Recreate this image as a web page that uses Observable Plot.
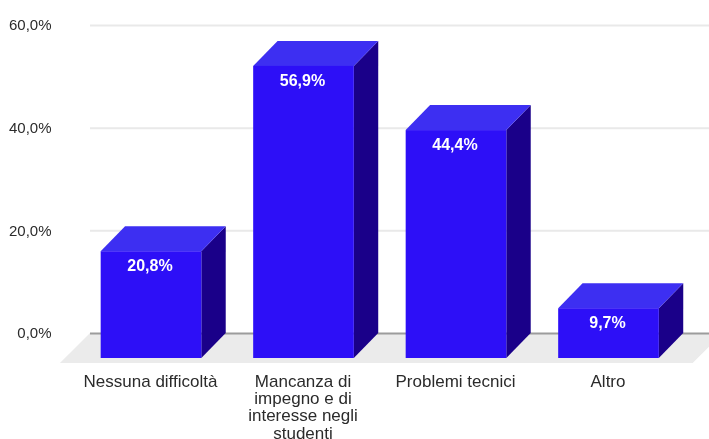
<!DOCTYPE html>
<html>
<head>
<meta charset="utf-8">
<script src="https://cdn.jsdelivr.net/npm/d3@7"></script>
<script src="https://cdn.jsdelivr.net/npm/@observablehq/plot@0.6"></script>
<style>
html,body{margin:0;padding:0;background:#fff}
svg{filter:blur(0.35px)}
</style>
</head>
<body>
<div id="chart"></div>
<script>
const categories = ["Nessuna difficoltà", "Mancanza di\nimpegno e di\ninteresse negli\nstudenti", "Problemi tecnici", "Altro"];
const values = [20.8, 56.9, 44.4, 9.7];
const yTicks = [0, 20, 40, 60];
const index = categories.map((_, i) => i);

// 3D extrusion, in data units of the two scales
const halfBar = 0.33, depthX = 0.16, depthY = 4.87;
const colors = {front: "#2d0ff7", top: "#3d2ff2", side: "#1a0089", floor: "#ebebeb", grid: "#e9e9e9", zero: "#9c9c9c", text: "#2b2b2b"};

const bars = values.map((v, i) => ({i, v, x1: i - halfBar, x2: i + halfBar, label: v.toFixed(1).replace(".", ",") + "%"}));
const sides = bars.flatMap(b => [
  {i: b.i, x: b.x2, lo: -depthY, hi: b.v - depthY},
  {i: b.i, x: b.x2 + depthX, lo: 0, hi: b.v}
]);
const tops = bars.flatMap(b => [
  {i: b.i, x: b.x1, lo: b.v - depthY, hi: b.v - depthY},
  {i: b.i, x: b.x1 + depthX, lo: b.v - depthY, hi: b.v},
  {i: b.i, x: b.x2, lo: b.v - depthY, hi: b.v},
  {i: b.i, x: b.x2 + depthX, lo: b.v, hi: b.v}
]);
const floorBottom = -5.84;
const floor = [
  {x: -0.597, lo: floorBottom, hi: floorBottom},
  {x: -0.4, lo: floorBottom, hi: 0},
  {x: 3.552, lo: floorBottom, hi: 0},
  {x: 3.75, lo: 0, hi: 0}
];

const chart = Plot.plot({
  width: 709,
  height: 439,
  marginLeft: 54,
  marginRight: 0,
  marginTop: 0,
  marginBottom: 65,
  style: {background: "#fff", fontFamily: "'Liberation Sans', Arial, sans-serif"},
  x: {type: "linear", domain: [-0.5, 3.5], range: [74.75, 684.75]},
  y: {type: "linear", domain: [0, 60], range: [333, 25]},
  marks: [
    Plot.axisY(yTicks, {
      anchor: "left", tickSize: 0, tickPadding: 3, label: null,
      tickFormat: d => d.toFixed(1).replace(".", ",") + "%",
      fontSize: 15, fill: colors.text
    }),
    Plot.axisX(index, {
      anchor: "bottom", tickSize: 0, tickPadding: 0, label: null,
      tickFormat: i => categories[i], lineHeight: 1.02, lineAnchor: "top",
      fontSize: 17, fill: colors.text, dx: -1
    }),
    Plot.ruleY(yTicks.filter(d => d > 0), {x1: -0.4, x2: 3.66, stroke: colors.grid, strokeWidth: 2}),
    Plot.area(floor, {x1: "x", y1: "lo", y2: "hi", fill: colors.floor}),
    Plot.ruleY([0], {x1: -0.4, x2: 3.66, stroke: colors.zero, strokeWidth: 2}),
    Plot.area(sides, {x1: "x", y1: "lo", y2: "hi", z: "i", fill: colors.side}),
    Plot.area(tops, {x1: "x", y1: "lo", y2: "hi", z: "i", fill: colors.top}),
    Plot.rect(bars, {x1: "x1", x2: "x2", y1: -depthY, y2: d => d.v - depthY, fill: colors.front}),
    Plot.text(bars, {x: d => d.i - 0.01, y: d => d.v - depthY, dy: 14, text: "label", fill: "#fff", fontWeight: "bold", fontSize: 16})
  ]
});
document.getElementById("chart").appendChild(chart);
</script>
</body>
</html>
